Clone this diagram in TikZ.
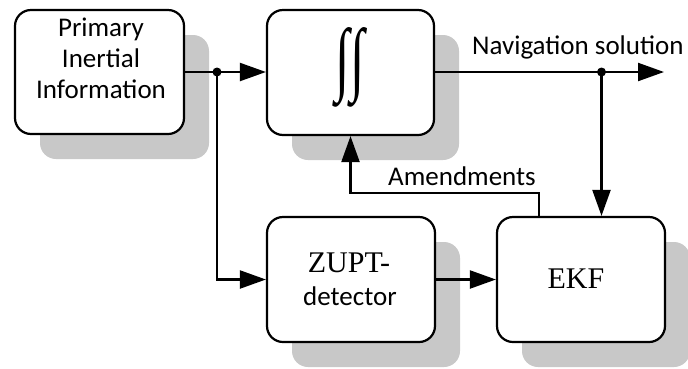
\documentclass[tikz,border=0pt]{standalone}
\usepackage{fontspec}
\usepackage{graphicx}
\setmainfont{Liberation Serif}
\newfontfamily\labelfont{Carlito}
\usetikzlibrary{arrows.meta,shadows}
\definecolor{shadowgray}{RGB}{200,200,200}

\tikzset{
  block/.style={draw=black, line width=2.2pt, fill=white, rounded corners=16pt,
    minimum width=168pt, minimum height=125pt, inner sep=0pt,
    drop shadow={shadow xshift=25pt, shadow yshift=-25pt, fill=shadowgray, opacity=1}},
  sanslabel/.style={font=\labelfont\fontsize{27}{31}\selectfont, inner sep=0pt},
  seriflabel/.style={font=\fontsize{30}{34}\selectfont, inner sep=0pt},
  link/.style={line width=2.2pt, draw=black},
  flow/.style={link, -{Triangle[length=26pt,width=18pt]}},
  joint/.style={circle, fill=black, inner sep=0pt, minimum size=9pt}
}

\begin{document}
\begin{tikzpicture}[x=1pt,y=-1pt]
  \useasboundingbox[fill=white] (0,0) rectangle (688,368);

  % blocks
  \node[block, minimum width=169pt, minimum height=124pt] (pii) at (99.5,72) {};
  \node[block, minimum width=167pt] (integ) at (350.5,72.5) {};
  \node[block] (zupt) at (351,279.5) {};
  \node[block] (ekf) at (581,279.5) {};

  % block texts
  \node[sanslabel, anchor=base] (pii1) at (101,36) {Primary};
  \node[sanslabel, anchor=base] (pii2) at (101,67) {Inertial};
  \node[sanslabel, anchor=base] (pii3) at (101,98) {Information};
  \node[inner sep=0pt] (iint) at (350,67)
    {\resizebox{30pt}{58pt}{\fontsize{40}{40}\selectfont ∫\kern1pt∫}};
  \node[seriflabel, anchor=base] (zupt1) at (349,272) {ZUPT-};
  \node[sanslabel, anchor=base] (zupt2) at (350,305) {detector};
  \node[seriflabel, anchor=base] (ekf1) at (576,288) {EKF};

  % connector labels
  \node[sanslabel, anchor=base west] (navlbl) at (472,54) {Navigation solution};
  \node[sanslabel, anchor=base west] (amdlbl) at (388,185) {Amendments};

  % junction points
  \node[joint] (j1) at (217,72) {};
  \node[joint] (j2) at (601.5,72) {};
  \coordinate (navout) at (664,72);
  \coordinate (amdtop) at (539,193);

  % connectors
  \draw[link] (pii.east |- j1) -- (j1.center);
  \draw[flow] (j1.center) -- (integ.west |- j1);
  \draw[flow] (j1.center) |- (zupt.west);
  \draw[link] (integ.east |- j2) -- (j2.center);
  \draw[flow] (j2.center) -- (navout);
  \draw[flow] (j2.center) -- (j2 |- ekf.north);
  \draw[flow] (amdtop |- ekf.north) -- (amdtop) -| (integ.south);
  \draw[flow] (zupt.east) -- (ekf.west);
\end{tikzpicture}
\end{document}
